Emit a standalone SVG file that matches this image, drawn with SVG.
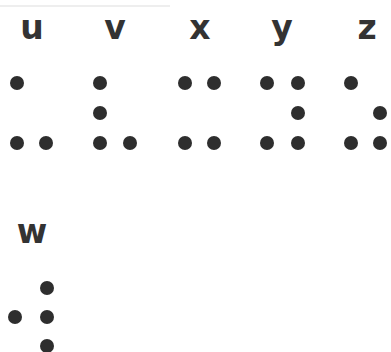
<svg xmlns="http://www.w3.org/2000/svg" width="391" height="352" viewBox="0 0 391 352">
<style>
.l{font-family:"DejaVu Sans",sans-serif;font-weight:bold;font-size:33px;fill:#333;text-anchor:middle}
.d{fill:#2e2e2e}
</style>
<rect width="391" height="352" fill="#fff"/>
<line x1="0" y1="6" x2="170" y2="6" stroke="#eee" stroke-width="2"/>
<g id="u"><text class="l" x="32" y="39">u</text>
<circle class="d" cx="17" cy="83" r="7"/><circle class="d" cx="17" cy="143" r="7"/><circle class="d" cx="46" cy="143" r="7"/></g>
<g id="v"><text class="l" x="115" y="39">v</text>
<circle class="d" cx="100" cy="83" r="7"/><circle class="d" cx="100" cy="113" r="7"/><circle class="d" cx="100" cy="143" r="7"/><circle class="d" cx="130" cy="143" r="7"/></g>
<g id="x"><text class="l" x="200" y="39">x</text>
<circle class="d" cx="185" cy="83" r="7"/><circle class="d" cx="214" cy="83" r="7"/><circle class="d" cx="185" cy="143" r="7"/><circle class="d" cx="214" cy="143" r="7"/></g>
<g id="y"><text class="l" x="282" y="39">y</text>
<circle class="d" cx="267" cy="83" r="7"/><circle class="d" cx="298" cy="83" r="7"/><circle class="d" cx="298" cy="113" r="7"/><circle class="d" cx="267" cy="143" r="7"/><circle class="d" cx="298" cy="143" r="7"/></g>
<g id="z"><text class="l" x="367" y="39">z</text>
<circle class="d" cx="351" cy="83" r="7"/><circle class="d" cx="380" cy="113" r="7"/><circle class="d" cx="351" cy="143" r="7"/><circle class="d" cx="380" cy="143" r="7"/></g>
<g id="w"><text class="l" x="32" y="243">w</text>
<circle class="d" cx="47" cy="288" r="7"/><circle class="d" cx="15" cy="317" r="7"/><circle class="d" cx="47" cy="317" r="7"/><circle class="d" cx="47" cy="346" r="7"/></g>
</svg>
